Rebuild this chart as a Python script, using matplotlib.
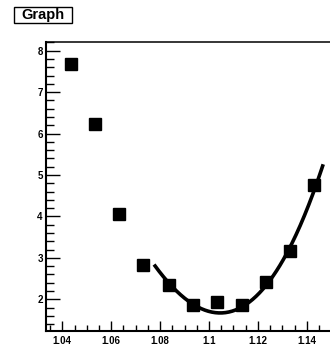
import numpy as np
import matplotlib
matplotlib.use("Agg")
import matplotlib.pyplot as plt
from matplotlib.ticker import MultipleLocator, FuncFormatter
from matplotlib.patches import Rectangle

# data points
x_vals = [1.0436, 1.0534, 1.0632, 1.0730, 1.0838, 1.0933, 1.1032, 1.1136, 1.1232, 1.1331, 1.1430]
y_vals = [7.67, 6.24, 4.07, 2.82, 2.34, 1.87, 1.94, 1.86, 2.41, 3.16, 4.77]
# fitted curve at a few positions
curve_x = [1.0775, 1.0841, 1.0929, 1.1032, 1.1134, 1.1237, 1.1331, 1.1430, 1.1467]
curve_y = [2.83, 2.39, 1.86, 1.68, 1.84, 2.39, 3.15, 4.77, 5.18]
fit_degree = 4
title = "Graph"

plt.rcParams['font.family'] = ['Liberation Sans', 'DejaVu Sans']

fig = plt.figure(figsize=(3.30, 3.47), dpi=100)
ax = fig.add_axes([45.5/330, 16/347, (332-45.5)/330, (331-41.7)/347])

ax.plot(x_vals, y_vals, linestyle='none', marker='s', markersize=8.8, color='black', zorder=3)

cx = np.array(curve_x)
cy = np.array(curve_y)
coef = np.polyfit(cx - 1.1, cy, fit_degree)
xf = np.linspace(cx.min(), cx.max(), 200)
ax.plot(xf, np.polyval(coef, xf - 1.1), color='black', linewidth=2.6, zorder=2,
        solid_capstyle='butt')

ax.set_xlim(1.0331, 1.1503)
ax.set_ylim(1.235, 8.217)

ax.xaxis.set_major_locator(MultipleLocator(0.02))
ax.xaxis.set_minor_locator(MultipleLocator(0.005))
ax.yaxis.set_major_locator(MultipleLocator(1))
ax.yaxis.set_minor_locator(MultipleLocator(0.2))
ax.xaxis.set_major_formatter(FuncFormatter(lambda v, p: f"{v:.2f}".rstrip('0')))
ax.yaxis.set_major_formatter(FuncFormatter(lambda v, p: f"{v:g}" if v >= 2 else ""))

ax.tick_params(axis='x', which='major', direction='in', length=7, width=1.0, pad=3.3,
               labelsize=7, top=False)
ax.tick_params(axis='x', which='minor', direction='in', length=4, width=1.0, top=False)
ax.tick_params(axis='y', which='major', direction='in', length=10, width=1.0, pad=2.0,
               labelsize=7, right=False)
ax.tick_params(axis='y', which='minor', direction='in', length=6, width=1.0, right=False)
for lab in ax.get_xticklabels() + ax.get_yticklabels():
    lab.set_fontweight('bold')

for s in ['left', 'bottom']:
    ax.spines[s].set_linewidth(1.5)
ax.spines['top'].set_linewidth(1.1)
ax.spines['right'].set_visible(False)

fig.patches.append(Rectangle((14/330, 1-23/347), 58/330, 16/347, transform=fig.transFigure,
                             fill=False, edgecolor='black', linewidth=1.0))
fig.text(43/330, 1-15.5/347, title, ha='center', va='center', fontsize=10.5, fontweight='bold')

fig.savefig("out.png", dpi=100)
